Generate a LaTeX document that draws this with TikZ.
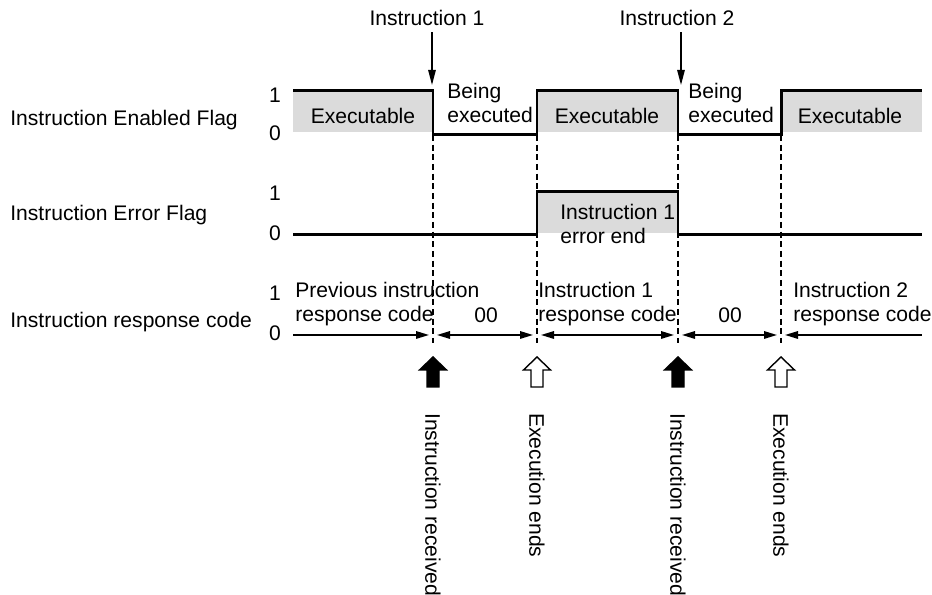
\documentclass[tikz,border=0pt]{standalone}
\usepackage{fontspec}
\setmainfont{Liberation Sans}
\usetikzlibrary{arrows.meta}

\begin{document}
\begin{tikzpicture}[
    lbl/.style={inner sep=0pt, align=left, font=\fontsize{12}{13.6}\selectfont},
    signal/.style={line width=1.7pt, line join=miter},
    shade/.style={fill=gray!28},
    edge/.style={line width=1.1pt, dash pattern=on 3.5pt off 2pt},
    span/.style={line width=0.9pt, {Triangle[length=0.26cm,width=0.15cm]}-{Triangle[length=0.26cm,width=0.15cm]}},
    pointer/.style={line width=0.7pt, -{Triangle[length=0.3cm,width=0.15cm]}},
    event/.pic={
      \filldraw[fill=#1, line width=0.8pt, line join=miter]
        (-0.12,-0.30) -- (-0.12,0.04) -- (-0.27,0.04) -- (0,0.30)
        -- (0.27,0.04) -- (0.12,0.04) -- (0.12,-0.30) -- cycle;
    },
  ]
    \useasboundingbox (0,0) rectangle (18.64,11.90);

    % signal names and levels
    \node[lbl, anchor=west] (enabled)  at (0.20,9.50) {Instruction Enabled Flag};
    \node[lbl, anchor=west] (error)    at (0.20,7.60) {Instruction Error Flag};
    \node[lbl, anchor=west] (response) at (0.20,5.46) {Instruction response code};
    \node[lbl] (en1) at (5.50,10.00) {1};
    \node[lbl] (en0) at (5.50,9.24)  {0};
    \node[lbl] (er1) at (5.50,8.04)  {1};
    \node[lbl] (er0) at (5.50,7.24)  {0};
    \node[lbl] (rc1) at (5.50,6.04)  {1};
    \node[lbl] (rc0) at (5.50,5.24)  {0};

    % shaded states
    \fill[shade] (5.86,10.08)  rectangle (8.66,9.26);
    \fill[shade] (10.74,10.08) rectangle (13.56,9.26);
    \fill[shade] (15.62,10.08) rectangle (18.44,9.26);
    \fill[shade] (10.74,8.06)  rectangle (13.56,7.24);

    % dashed time marks
    \draw[edge, line width=0.6pt] (8.66,9.20) -- (8.66,5.04);
    \foreach \x in {10.74,13.56,15.62}
      \draw[edge] (\x,9.20) -- (\x,5.04);

    % flags
    \draw[signal] (5.86,10.08) -- (8.66,10.08) |- (10.74,9.20) |- (13.56,10.08)
      |- (15.62,9.20) |- (18.44,10.08);
    \draw[signal] (5.86,7.20) -- (10.74,7.20) |- (13.56,8.06) |- (18.44,7.20);

    \node[lbl] (exe1) at (7.26,9.58)  {Executable};
    \node[lbl] (exe2) at (12.14,9.58) {Executable};
    \node[lbl] (exe3) at (17.00,9.58) {Executable};
    \node[lbl, anchor=west] (busy1) at (8.94,9.84)  {Being\\executed};
    \node[lbl, anchor=west] (busy2) at (13.76,9.84) {Being\\executed};
    \node[lbl, anchor=west] (errend) at (11.20,7.42) {Instruction 1\\error end};

    % commands
    \node[lbl] (ins1) at (8.54,11.54)  {Instruction 1};
    \node[lbl] (ins2) at (13.54,11.54) {Instruction 2};
    \coordinate (cmd1) at (8.64,10.20);
    \coordinate (cmd2) at (13.62,10.20);
    \draw[pointer] ([yshift=-0.12cm]ins1.south -| cmd1) -- (cmd1);
    \draw[pointer] ([yshift=-0.12cm]ins2.south -| cmd2) -- (cmd2);

    % response code
    \draw[line width=0.9pt, -{Triangle[length=0.26cm,width=0.15cm]}]
      (5.86,5.20) -- (8.58,5.20);
    \draw[span] (8.74,5.20)  -- (10.66,5.20);
    \draw[span] (10.82,5.20) -- (13.48,5.20);
    \draw[span] (13.64,5.20) -- (15.54,5.20);
    \draw[line width=0.9pt, {Triangle[length=0.26cm,width=0.15cm]}-]
      (15.70,5.20) -- (18.44,5.20);

    \node[lbl, anchor=west] (prev) at (5.90,5.82)  {Previous instruction\\response code};
    \node[lbl, anchor=west] (rsp1) at (10.76,5.82) {Instruction 1\\response code};
    \node[lbl, anchor=west] (rsp2) at (15.86,5.82) {Instruction 2\\response code};
    \node[lbl] (zero1) at (9.72,5.60)  {00};
    \node[lbl] (zero2) at (14.60,5.60) {00};

    % events
    \pic (got1) at (8.66,4.46)  {event=black};
    \pic (end1) at (10.74,4.46) {event=white};
    \pic (got2) at (13.56,4.46) {event=black};
    \pic (end2) at (15.62,4.46) {event=white};
    \node[lbl, rotate=-90, anchor=west] (got1txt) at (8.66,3.64)  {Instruction received};
    \node[lbl, rotate=-90, anchor=west] (end1txt) at (10.74,3.64) {Execution ends};
    \node[lbl, rotate=-90, anchor=west] (got2txt) at (13.56,3.64) {Instruction received};
    \node[lbl, rotate=-90, anchor=west] (end2txt) at (15.62,3.64) {Execution ends};
  \end{tikzpicture}
\end{document}
